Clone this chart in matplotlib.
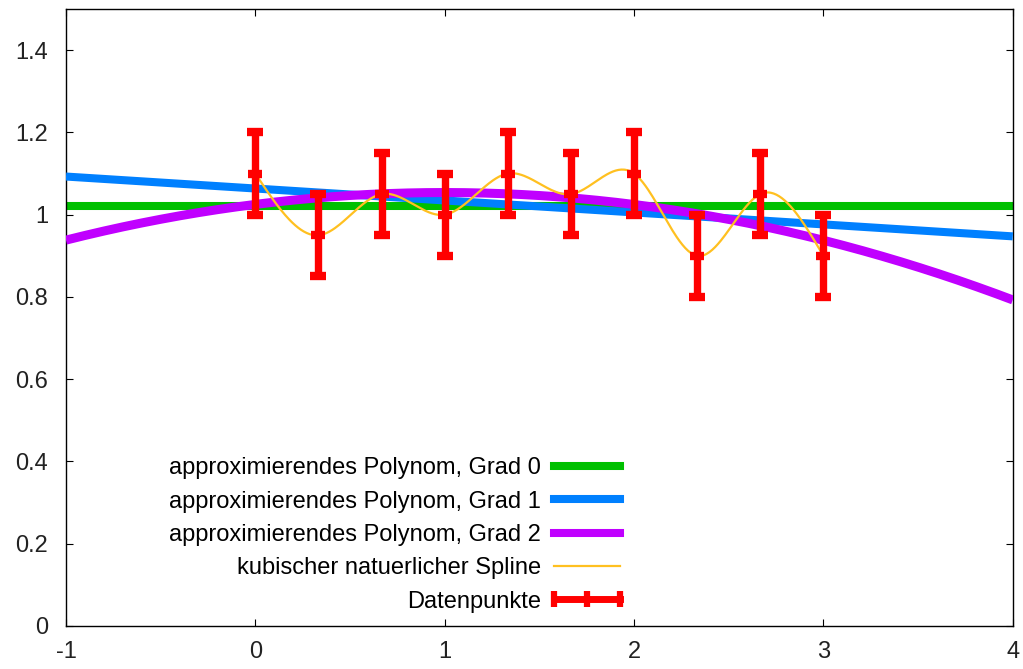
import numpy as np
import matplotlib
matplotlib.use('Agg')
import matplotlib.pyplot as plt
from matplotlib.lines import Line2D
from matplotlib.legend_handler import HandlerLine2D

plt.rcParams['font.family'] = ['Liberation Sans', 'DejaVu Sans']

# data
x_data = [0, 1/3, 2/3, 1, 4/3, 5/3, 2, 7/3, 8/3, 3]
y_data = [1.1, 0.95, 1.05, 1.0, 1.1, 1.05, 1.1, 0.9, 1.05, 0.9]
y_err = [0.1] * 10

x_ticks = [-1, 0, 1, 2, 3, 4]
y_ticks = [0, 0.2, 0.4, 0.6, 0.8, 1, 1.2, 1.4]
y_ticklabels = ['0', '0.2', '0.4', '0.6', '0.8', '1', '1.2', '1.4']

labels = ['approximierendes Polynom, Grad 0',
          'approximierendes Polynom, Grad 1',
          'approximierendes Polynom, Grad 2',
          'kubischer natuerlicher Spline',
          'Datenpunkte']
colors = ['#00c000', '#0080ff', '#c000ff', '#ffc020', '#ff0000']


def natural_spline(xk, yk, xs):
    xk = np.asarray(xk, float)
    yk = np.asarray(yk, float)
    n = len(xk)
    h = np.diff(xk)
    A = np.zeros((n, n))
    r = np.zeros(n)
    A[0, 0] = A[-1, -1] = 1
    for i in range(1, n - 1):
        A[i, i - 1] = h[i - 1]
        A[i, i] = 2 * (h[i - 1] + h[i])
        A[i, i + 1] = h[i]
        r[i] = 6 * ((yk[i + 1] - yk[i]) / h[i] - (yk[i] - yk[i - 1]) / h[i - 1])
    M = np.linalg.solve(A, r)
    idx = np.clip(np.searchsorted(xk, xs) - 1, 0, n - 2)
    x0, x1 = xk[idx], xk[idx + 1]
    hh = x1 - x0
    return (M[idx] * (x1 - xs) ** 3 / (6 * hh) + M[idx + 1] * (xs - x0) ** 3 / (6 * hh)
            + (yk[idx] / hh - M[idx] * hh / 6) * (x1 - xs)
            + (yk[idx + 1] / hh - M[idx + 1] * hh / 6) * (xs - x0))


fig = plt.figure(figsize=(10.23, 6.69), dpi=100)
ax = fig.add_axes([0.0645, 0.0643, 0.9255, 0.9222])

X = np.linspace(-1, 4, 500)
widths = [5.8, 5.8, 6.5]
for deg in range(3):
    p = np.polyfit(x_data, y_data, deg)
    ax.plot(X, np.polyval(p, X), color=colors[deg], lw=widths[deg],
            solid_capstyle='butt', zorder=2 + deg, clip_on=False if deg == 0 else True)

Xs = np.linspace(x_data[0], x_data[-1], 400)
ax.plot(Xs, natural_spline(x_data, y_data, Xs), color=colors[3], lw=1.6, zorder=5)

ax.errorbar(x_data, y_data, yerr=y_err, fmt='_', color=colors[4], ecolor=colors[4],
            elinewidth=5.3, capsize=5.5, capthick=6, ms=9.5, mew=6, zorder=6)

ax.set_xlim(-1, 4)
ax.set_ylim(0, 1.5)
ax.set_xticks(x_ticks)
ax.set_xticklabels([str(t) for t in x_ticks])
ax.set_yticks(y_ticks)
ax.set_yticklabels(y_ticklabels)
ax.tick_params(direction='in', length=5, width=0.8, top=True, right=True,
               labelsize=17, labelcolor='#222222')
ax.tick_params(axis='x', pad=11)
ax.tick_params(axis='y', pad=13)
for s in ax.spines.values():
    s.set_linewidth(1.0)

handles = [Line2D([], [], color=colors[0], lw=5.8),
           Line2D([], [], color=colors[1], lw=5.8),
           Line2D([], [], color=colors[2], lw=5.8),
           Line2D([], [], color=colors[3], lw=1.6)]
h_err = Line2D([], [], color=colors[4], lw=5, marker='|', ms=11, mew=4.5)
handles.append(h_err)
ax.legend(handles, labels, loc='lower right', bbox_to_anchor=(0.603, -0.005),
          frameon=False, markerfirst=False, fontsize=17, handlelength=2.8,
          handletextpad=0.55, labelspacing=0.48, borderpad=0.2,
          handler_map={h_err: HandlerLine2D(numpoints=3, marker_pad=0)})

fig.savefig('out.png', dpi=100)
